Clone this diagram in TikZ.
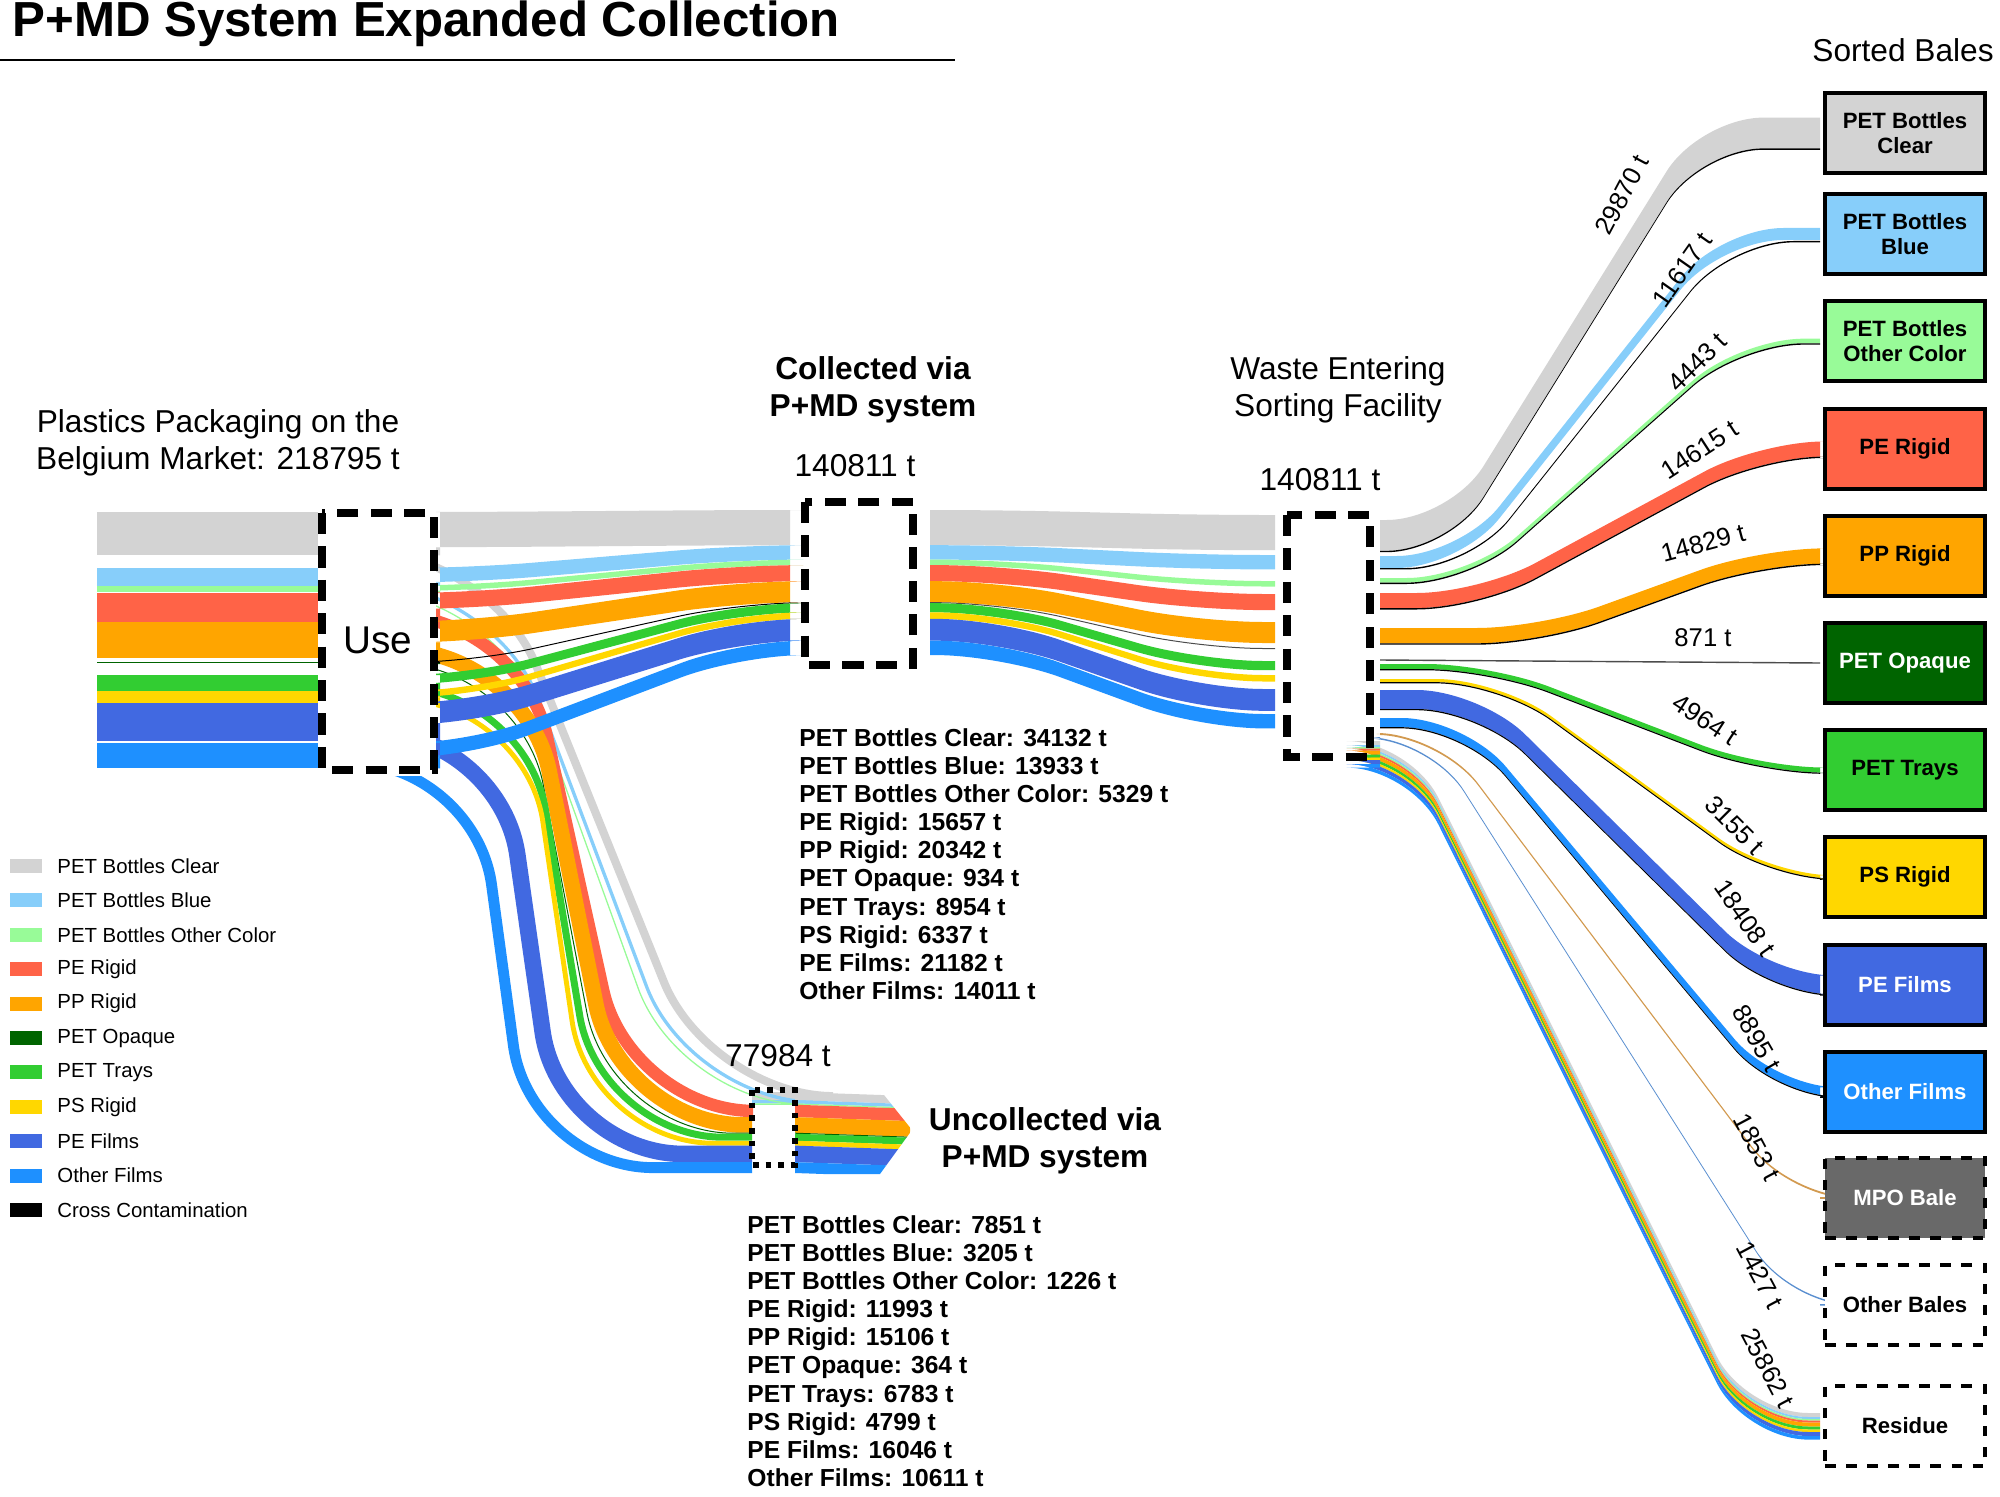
\documentclass[tikz,border=0pt]{standalone}
\usepackage{fontspec}
\setmainfont{Liberation Sans}
\definecolor{cA}{HTML}{D3D3D3}
\definecolor{cB}{HTML}{87CEFA}
\definecolor{cC}{HTML}{98FB98}
\definecolor{cD}{HTML}{FF6347}
\definecolor{cE}{HTML}{FFA500}
\definecolor{cF}{HTML}{006400}
\definecolor{cG}{HTML}{32CD32}
\definecolor{cH}{HTML}{FFD700}
\definecolor{cI}{HTML}{4169E1}
\definecolor{cJ}{HTML}{1E90FF}
\definecolor{cK}{HTML}{696969}
\definecolor{cMPO}{HTML}{D29A50}
\definecolor{cOB}{HTML}{5A8FD0}
% color, x1, t1, xa, xb, x2, t2, th
\newcommand\sband[8]{\fill[#1] (#2,#3) [rounded corners=18] -- (#4,#3) -- (#5,#7) [sharp corners] -- (#6,#7) -- (#6,{#7+#8}) [rounded corners=18] -- (#5,{#7+#8}) -- (#4,{#3+#8}) [sharp corners] -- (#2,{#3+#8}) -- cycle;}
% color, y1 center, xa, xb, y2 center, width
\newcommand\uband[6]{\draw[#1, line width=#6*0.01cm, rounded corners=35] (440,#2) -- (#3,#2) -- (#4,#5) -- (752,#5);}
\tikzset{
  lbl/.style={font=\fontsize{9}{10.5}\selectfont, align=center},
  lst/.style={font=\bfseries\fontsize{7}{8}\selectfont, align=left, anchor=north west},
  bale/.style={draw=black, line width=1.2pt, minimum width=1.6cm, minimum height=0.8cm, font=\bfseries\fontsize{6.3}{7.3}\selectfont, align=center},
  dbox/.style={draw=black, dashed, line width=2.2pt, dash pattern=on 6pt off 3.5pt},
  rl/.style={font=\fontsize{7.3}{9}\selectfont},
  leg/.style={font=\fontsize{5.8}{7}\selectfont, anchor=west}
}
\begin{document}
\begin{tikzpicture}[x=0.01cm,y=-0.01cm]
\useasboundingbox (0,0) rectangle (2000,1497);
% title
\node[anchor=west, font=\bfseries\fontsize{14}{16}\selectfont] (title) at (0,24) {P+MD System Expanded Collection};
\draw[line width=0.8pt] (0,60) -- (955,60);
\node[font=\fontsize{9}{11}\selectfont] (sorted) at (1903,50) {Sorted Bales};
% left bars
\foreach \c/\t/\h in {cA/512/43, cB/568/17.6, cC/585.6/6.8, cD/593/28.5, cE/621.5/36.5, cF/662/1.3, cG/675/16.2, cH/691/11.5, cI/703/38.3, cJ/743/25.4}
  \fill[\c] (97,\t) rectangle (318,\t+\h);
% uncollected flows (behind)
\uband{cA}{551.3}{490}{710}{1096.1}{8.1}
\uband{cB}{584.1}{495}{690}{1101.8}{3.3}
\uband{cC}{591.8}{495}{680}{1104.1}{1.3}
\uband{cD}{615.3}{520}{630}{1110.9}{12.4}
\uband{cE}{650.3}{525}{620}{1124.9}{15.6}
\uband{cF}{663.5}{520}{610}{1133.2}{1}
\uband{cG}{687.7}{525}{600}{1137.2}{7}
\uband{cH}{700.0}{525}{590}{1143.2}{4.9}
\uband{cI}{733.1}{500}{560}{1153.9}{16.5}
\uband{cJ}{762.9}{475}{530}{1167.6}{10.9}
% collected flows
\sband{cA}{440}{512}{470}{740}{790}{510}{35.2}
\sband{cB}{440}{568}{470}{740}{790}{545.2}{14.4}
\sband{cC}{440}{585.6}{470}{740}{790}{559.6}{5.5}
\sband{cD}{440}{593}{470}{740}{790}{565.1}{16.1}
\sband{cE}{440}{621.5}{470}{740}{790}{581.2}{21}
\sband{black}{440}{662}{470}{740}{790}{602.2}{1}
\sband{cG}{440}{675}{470}{740}{790}{603.2}{9.2}
\sband{cH}{440}{691}{470}{740}{790}{612.4}{6.5}
\sband{cI}{440}{703}{470}{740}{790}{618.9}{21.8}
\sband{cJ}{440}{743}{470}{740}{790}{640.7}{14.4}
% collected -> sorting
\sband{cA}{930}{510}{1000}{1200}{1275}{515}{35.2}
\sband{cB}{930}{545.2}{1000}{1200}{1275}{555}{14.4}
\sband{cC}{930}{559.6}{1000}{1200}{1275}{581}{5.5}
\sband{cD}{930}{565.1}{1000}{1200}{1275}{594}{16.1}
\sband{cE}{930}{581.2}{1000}{1200}{1275}{622}{21}
\sband{black!70}{930}{602.2}{1000}{1200}{1275}{648}{1}
\sband{cG}{930}{603.2}{1000}{1200}{1275}{661}{9.2}
\sband{cH}{930}{612.4}{1000}{1200}{1275}{675}{6.5}
\sband{cI}{930}{618.9}{1000}{1200}{1275}{689}{21.8}
\sband{cJ}{930}{640.7}{1000}{1200}{1275}{714}{14.4}
% uncollected continuation arrow
\begin{scope}
\clip (795,1086) -- (880,1090) -- (912,1130) -- (880,1174) -- (795,1174) -- cycle;
\foreach \c/\t/\h in {cA/1092/8.1, cB/1100.1/3.3, cC/1103.4/1.3, cD/1104.7/12.4, cE/1117.1/15.6, cF/1132.7/1, cG/1133.7/7, cH/1140.7/4.9, cI/1145.6/16.5, cJ/1162.1/10.9}
  \fill[\c] (795,\t) -- (910,\t+4) -- (910,\t+\h+4) -- (795,\t+\h) -- cycle;
\end{scope}
% sorting outputs
\def\bl#1#2#3#4#5#6{\sband{#1}{1380}{#2}{#3}{#4}{1820}{#5}{#6}}
\bl{cA}{520}{1450}{1700}{117.6}{30.8}
\sband{black}{1380}{550.8}{1450}{1700}{1820}{148.4}{1.4}
\bl{cB}{556}{1460}{1720}{228}{12}
\sband{black}{1380}{568}{1470}{1730}{1820}{241}{1.4}
\bl{cC}{578}{1470}{1740}{338.7}{4.6}
\sband{black}{1380}{582.6}{1470}{1740}{1820}{343.3}{1.4}
\bl{cD}{593}{1480}{1760}{441.5}{15.1}
\sband{black}{1380}{608.1}{1480}{1760}{1820}{456.6}{1.4}
\bl{cE}{628}{1540}{1760}{548.4}{15.3}
\sband{black}{1380}{643.3}{1540}{1760}{1820}{563.7}{1.4}
\draw[black!70, line width=0.4pt] (1380,660) -- (1820,663);
\bl{cG}{664}{1490}{1760}{767.5}{5.1}
\sband{black}{1380}{669.1}{1490}{1760}{1820}{772.6}{1.2}
\bl{cH}{679}{1500}{1770}{875.4}{3.2}
\sband{black}{1380}{682.2}{1500}{1770}{1820}{878.6}{1.2}
\bl{cI}{690}{1480}{1770}{975.5}{19}
\sband{black}{1380}{709}{1480}{1770}{1820}{994.5}{1.2}
\bl{cJ}{718}{1465}{1775}{1087.4}{9.2}
\sband{black}{1380}{727.2}{1465}{1775}{1820}{1096.6}{1.2}
\bl{cMPO}{733}{1440}{1790}{1197}{1.9}
\bl{cOB}{737}{1430}{1790}{1304}{1.5}
\foreach \c/\o/\h in {cA/0/4, cB/4/2, cC/6/1.5, cD/7.5/2, cE/9.5/4, cG/13.5/3, cH/16.5/2.5, cI/19/4, cJ/23/3.6}
  \sband{\c}{1380}{741+\o}{1410}{1745}{1820}{1413+\o}{\h};
% boxes
\fill[white] (322,505) rectangle (436,776);
\draw[dbox] (322,513) rectangle (434,770);
\node[font=\fontsize{11}{13}\selectfont] (use) at (378,640) {Use};
\draw[dbox] (805,502) rectangle (913,665);
\draw[dbox] (1287,515) rectangle (1370,757);
\draw[black, line width=1.6pt, dotted] (752,1090) rectangle (795,1165);
% headings
\node[lbl] (mkt) at (218,443) {Plastics Packaging on the\\Belgium Market: 218795 t};
\node[lbl, font=\bfseries\fontsize{9}{10.5}\selectfont] (coll) at (873,390) {Collected via\\P+MD system};
\node[lbl] (sort) at (1338,390) {Waste Entering\\Sorting Facility};
\node[lbl, font=\bfseries\fontsize{9}{10.5}\selectfont] (unc) at (1045,1141) {Uncollected via\\P+MD system};
\node[lbl] (n1) at (855,466) {140811 t};
\node[lbl] (n2) at (1320,480) {140811 t};
\node[lbl] (n3) at (778,1056) {77984 t};
% lists
\node[lst] (clist) at (787,716) {PET Bottles Clear: 34132 t\\PET Bottles Blue: 13933 t\\PET Bottles Other Color: 5329 t\\PE Rigid: 15657 t\\PP Rigid: 20342 t\\PET Opaque: 934 t\\PET Trays: 8954 t\\PS Rigid: 6337 t\\PE Films: 21182 t\\Other Films: 14011 t};
\node[lst] (ulist) at (735,1203) {PET Bottles Clear: 7851 t\\PET Bottles Blue: 3205 t\\PET Bottles Other Color: 1226 t\\PE Rigid: 11993 t\\PP Rigid: 15106 t\\PET Opaque: 364 t\\PET Trays: 6783 t\\PS Rigid: 4799 t\\PE Films: 16046 t\\Other Films: 10611 t};
% bales
\node[bale, fill=cA] (b1) at (1905,133) {PET Bottles\\Clear};
\node[bale, fill=cB] (b2) at (1905,234) {PET Bottles\\Blue};
\node[bale, fill=cC] (b3) at (1905,341) {PET Bottles\\Other Color};
\node[bale, fill=cD] (b4) at (1905,449) {PE Rigid};
\node[bale, fill=cE] (b5) at (1905,556) {PP Rigid};
\node[bale, fill=cF, text=white] (b6) at (1905,663) {PET Opaque};
\node[bale, fill=cG] (b7) at (1905,770) {PET Trays};
\node[bale, fill=cH] (b8) at (1905,877) {PS Rigid};
\node[bale, fill=cI, text=white] (b9) at (1905,985) {PE Films};
\node[bale, fill=cJ, text=white] (b10) at (1905,1092) {Other Films};
\node[bale, fill=cK, text=white, dashed] (b11) at (1905,1198) {MPO Bale};
\node[bale, fill=white, dashed] (b12) at (1905,1305) {Other Bales};
\node[bale, fill=white, dashed] (b13) at (1905,1426) {Residue};
% flow labels
\node[rl, rotate=62] (l1) at (1622,195) {29870 t};
\node[rl, rotate=55] (l2) at (1682,270) {11617 t};
\node[rl, rotate=45] (l3) at (1697,362) {4443 t};
\node[rl, rotate=33] (l4) at (1700,450) {14615 t};
\node[rl, rotate=15] (l5) at (1703,543) {14829 t};
\node[rl] (l6) at (1703,638) {871 t};
\node[rl, rotate=-33] (l7) at (1705,720) {4964 t};
\node[rl, rotate=-45] (l8) at (1735,825) {3155 t};
\node[rl, rotate=-55] (l9) at (1745,918) {18408 t};
\node[rl, rotate=-60] (l10) at (1757,1038) {8895 t};
\node[rl, rotate=-62] (l11) at (1757,1147) {1853 t};
\node[rl, rotate=-62] (l12) at (1760,1275) {1427 t};
\node[rl, rotate=-62] (l13) at (1768,1368) {25862 t};
% legend
\foreach \c/\t [count=\i] in {cA/PET Bottles Clear, cB/PET Bottles Blue, cC/PET Bottles Other Color, cD/PE Rigid, cE/PP Rigid, cF/PET Opaque, cG/PET Trays, cH/PS Rigid, cI/PE Films, cJ/Other Films, black/Cross Contamination}{
  \fill[\c] (10,{859+34.4*(\i-1)}) rectangle (42,{873+34.4*(\i-1)});
  \node[leg] (leg\i) at (45,{866+34.4*(\i-1)}) {\t};
}
\end{tikzpicture}
\end{document}
